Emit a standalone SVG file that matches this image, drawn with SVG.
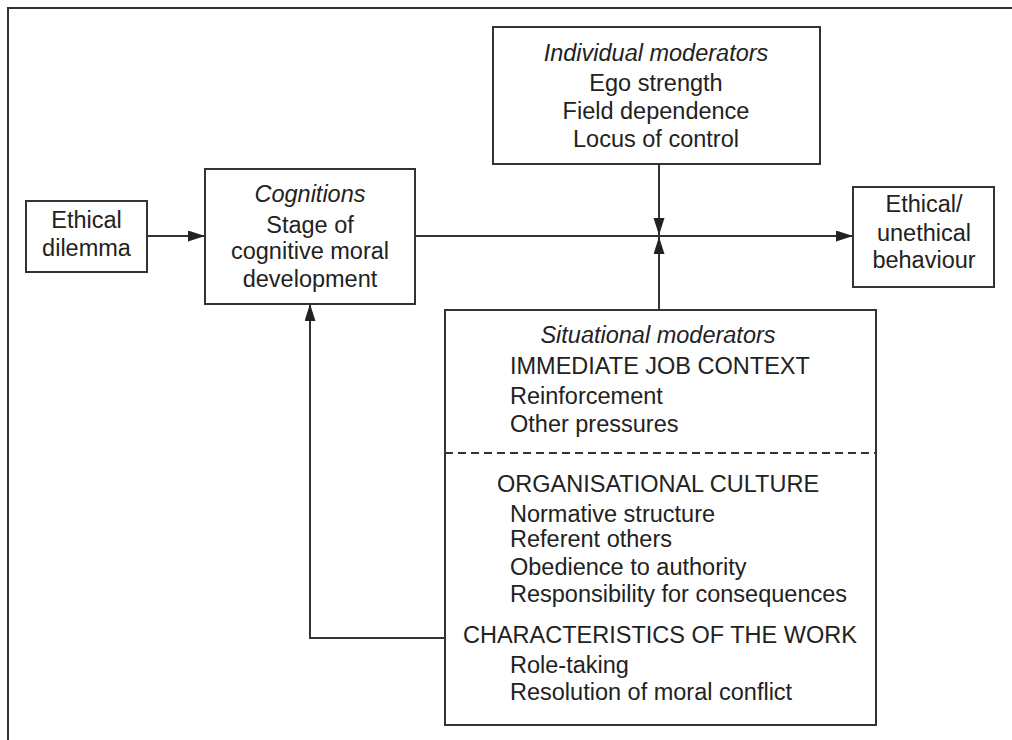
<svg xmlns="http://www.w3.org/2000/svg" width="1012" height="740" viewBox="0 0 1012 740">
<style>
.box{fill:#fff;stroke:#333;stroke-width:2}
.ln{fill:none;stroke:#333;stroke-width:2}
text{font-family:"Liberation Sans",Arial,sans-serif;font-size:23.5px;fill:#222}
.c{text-anchor:middle}
.i{font-style:italic}
</style>
<defs>
<marker id="ah" markerUnits="userSpaceOnUse" markerWidth="18" markerHeight="12" refX="17" refY="5.5" orient="auto">
<path d="M0,0 L17,5.5 L0,11 z" fill="#222"/>
</marker>
</defs>
<rect width="1012" height="740" fill="#fff"/>
<path class="ln" d="M8,740 L8,8 L1012,8"/>
<g id="connectors">
<line class="ln" x1="147" y1="236" x2="205" y2="236" marker-end="url(#ah)"/>
<line class="ln" x1="415" y1="236" x2="853" y2="236" marker-end="url(#ah)"/>
<line class="ln" x1="659" y1="164" x2="659" y2="235" marker-end="url(#ah)"/>
<line class="ln" x1="659" y1="310" x2="659" y2="237" marker-end="url(#ah)"/>
<polyline class="ln" points="445,638 310,638 310,304" marker-end="url(#ah)"/>
</g>
<g id="dilemma">
<rect class="box" x="26" y="201" width="121" height="71"/>
<text class="c" x="86.5" y="228">Ethical</text>
<text class="c" x="86.5" y="256">dilemma</text>
</g>
<g id="cognitions">
<rect class="box" x="205" y="169" width="210" height="135"/>
<text class="c i" x="310" y="202">Cognitions</text>
<text class="c" x="310" y="233">Stage of</text>
<text class="c" x="310" y="259">cognitive moral</text>
<text class="c" x="310" y="287">development</text>
</g>
<g id="individual">
<rect class="box" x="493" y="27" width="327" height="137"/>
<text class="c i" x="656" y="61">Individual moderators</text>
<text class="c" x="656" y="91">Ego strength</text>
<text class="c" x="656" y="119">Field dependence</text>
<text class="c" x="656" y="147">Locus of control</text>
</g>
<g id="behaviour">
<rect class="box" x="853" y="187" width="141" height="100"/>
<text class="c" x="924" y="212">Ethical/</text>
<text class="c" x="924" y="241">unethical</text>
<text class="c" x="924" y="268">behaviour</text>
</g>
<g id="situational">
<rect class="box" x="445" y="310" width="431" height="415"/>
<line class="ln" x1="445" y1="453" x2="876" y2="453" stroke-dasharray="8,5"/>
<text class="c i" x="658" y="343">Situational moderators</text>
<text x="510" y="374">IMMEDIATE JOB CONTEXT</text>
<text x="510" y="404">Reinforcement</text>
<text x="510" y="432">Other pressures</text>
<text x="497" y="492">ORGANISATIONAL CULTURE</text>
<text x="510" y="522">Normative structure</text>
<text x="510" y="547">Referent others</text>
<text x="510" y="575">Obedience to authority</text>
<text x="510" y="602">Responsibility for consequences</text>
<text x="463" y="643">CHARACTERISTICS OF THE WORK</text>
<text x="510" y="673">Role-taking</text>
<text x="510" y="700">Resolution of moral conflict</text>
</g>
</svg>
